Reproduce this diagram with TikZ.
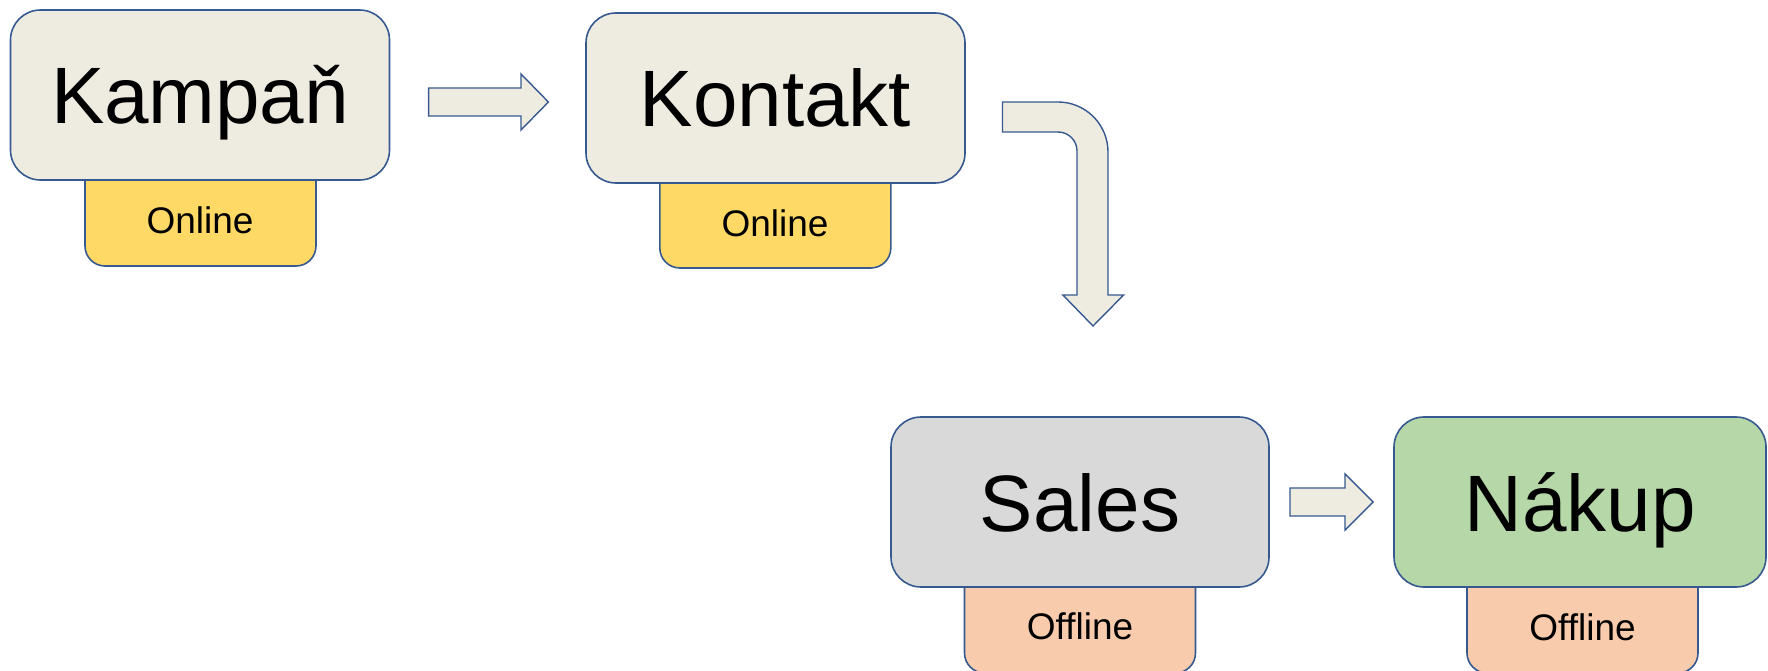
\documentclass[tikz,border=0pt]{standalone}
\usepackage{fontspec}
\setmainfont{Liberation Sans}
\definecolor{edge}{HTML}{36598F}
\definecolor{beige}{HTML}{EEECE1}
\definecolor{online}{HTML}{FFD966}
\definecolor{offline}{HTML}{F8CBAD}
\definecolor{salesgray}{HTML}{D9D9D9}
\definecolor{buygreen}{HTML}{B6D7A8}
\tikzset{
  stage/.style={draw=edge, line width=1.6pt, rounded corners=30pt,
    minimum height=170pt, inner sep=0pt, text height=58pt, text depth=0pt,
    font=\fontsize{80}{96}\selectfont},
  tab/.style={draw=edge, line width=1.6pt, rounded corners=20pt, inner sep=0pt,
    minimum width=231pt},
  tablabel/.style={anchor=base, inner sep=0pt, font=\fontsize{37}{44}\selectfont},
  blockarrow/.style={draw=edge, fill=beige, line width=1.4pt, line join=miter}
}
\begin{document}
\begin{tikzpicture}[x=1pt, y=-1pt]
\useasboundingbox (0,0) rectangle (1768,671);
\clip (0,0) rectangle (1768,671);

% channel tabs, tucked under the stage boxes
\node[tab, fill=online, minimum height=126pt] (tab1) at (200.5,203) {};
\node[tab, fill=online, minimum height=128pt] (tab2) at (775.3,204) {};
\node[tab, fill=offline, minimum height=133pt] (tab3) at (1080,606.5) {};
\node[tab, fill=offline, minimum height=133pt] (tab4) at (1582.5,606.5) {};

% stage boxes
\node[stage, fill=beige, minimum width=379pt] (kampan) at (200,95) {Kampaň};
\node[stage, fill=beige, minimum width=379pt] (kontakt) at (775.5,98) {Kontakt};
\node[stage, fill=salesgray, minimum width=378pt] (sales) at (1080,502) {Sales};
\node[stage, fill=buygreen, minimum width=372pt] (nakup) at (1580,502) {Nákup};

% tab labels
\node[tablabel] (lab1) at (200,233) {Online};
\node[tablabel] (lab2) at (775,236) {Online};
\node[tablabel] (lab3) at (1080,639) {Offline};
\node[tablabel] (lab4) at (1582.5,640) {Offline};

% block arrows between stages
\draw[blockarrow] (428.6,88) -- (521,88) -- (521,74) -- (548.4,102) -- (521,130)
  -- (521,116) -- (428.6,116) -- cycle;
\draw[blockarrow] (1002.5,102) -- (1058,102)
  .. controls (1085.6,102) and (1108,124.4) .. (1108,152)
  -- (1108,295) -- (1123.6,295) -- (1093,326) -- (1062.9,295) -- (1077,295)
  -- (1077,151) .. controls (1077,140.5) and (1068.5,132) .. (1058,132)
  -- (1002.5,132) -- cycle;
\draw[blockarrow] (1290,488) -- (1345,488) -- (1345,474) -- (1373,502) -- (1345,530)
  -- (1345,516) -- (1290,516) -- cycle;
\end{tikzpicture}
\end{document}
